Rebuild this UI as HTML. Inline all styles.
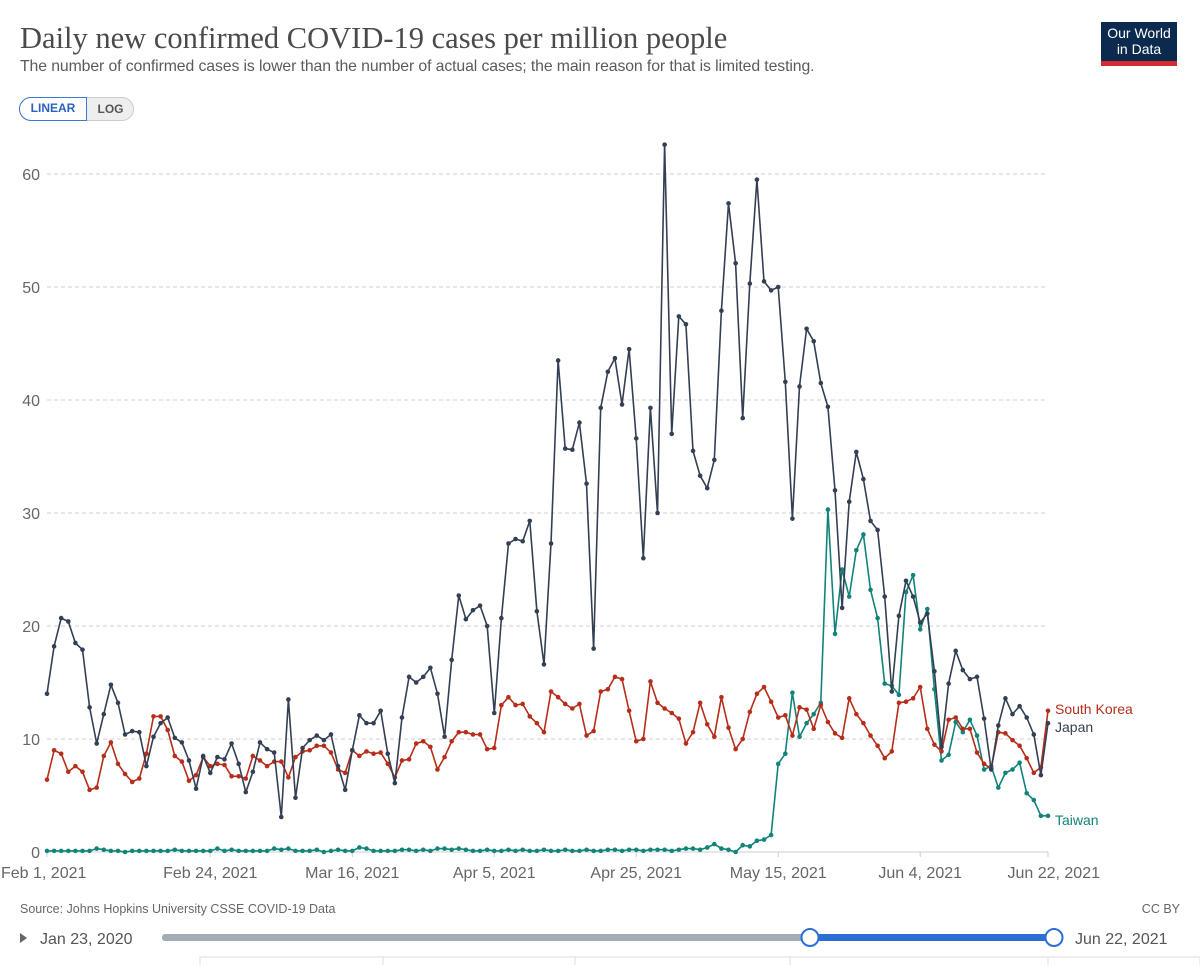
<!DOCTYPE html>
<html><head><meta charset="utf-8">
<style>
html,body{margin:0;padding:0;background:#fff;width:1200px;height:965px;overflow:hidden;font-family:"Liberation Sans",sans-serif;}
.abs{position:absolute;}
#title{left:20px;top:21px;font-family:"Liberation Serif",serif;font-size:30.5px;color:#4a4a4a;white-space:nowrap;}
#sub{left:20px;top:58px;font-size:15.8px;color:#5b5b5b;white-space:nowrap;letter-spacing:-0.1px;}
#toggle{left:19px;top:97px;height:24px;width:115px;border-radius:12px;background:#eee;border:1px solid #ccc;box-sizing:border-box;}
#lin{left:19px;top:97px;height:24px;width:68px;border:1.5px solid #3a78d4;border-radius:12px 0 0 12px;box-sizing:border-box;background:#fff;color:#2a62c0;font-size:12px;font-weight:bold;text-align:center;line-height:21px;}
#log{left:87px;top:97px;height:24px;width:47px;color:#555;font-size:12px;font-weight:bold;text-align:center;line-height:24px;}
#logo{left:1101px;top:22px;width:76px;height:44px;background:#0c2a4e;color:#fff;font-size:14px;line-height:16px;text-align:center;box-sizing:border-box;padding-top:3px;border-bottom:5px solid #d42b32;}
</style></head><body>
<div id="title" class="abs">Daily new confirmed COVID-19 cases per million people</div>
<div id="sub" class="abs">The number of confirmed cases is lower than the number of actual cases; the main reason for that is limited testing.</div>
<div id="toggle" class="abs"></div>
<div id="lin" class="abs">LINEAR</div>
<div id="log" class="abs">LOG</div>
<div id="logo" class="abs">Our World<br>in Data</div>
<svg id="chart" class="abs" style="left:0;top:0" width="1200" height="965"></svg>
<script>
const xTickLabels = ["Feb 1, 2021","Feb 24, 2021","Mar 16, 2021","Apr 5, 2021","Apr 25, 2021","May 15, 2021","Jun 4, 2021","Jun 22, 2021"];
const xTickDays = [0,23,43,63,83,103,123,141];
const yTicks = [0,10,20,30,40,50,60];
const seriesNames = ["Japan","South Korea","Taiwan"];
const japan = [14.0,18.2,20.7,20.4,18.5,17.9,12.8,9.6,12.2,14.8,13.2,10.4,10.7,10.6,7.6,10.2,11.4,11.9,10.1,9.7,8.1,5.6,8.5,7.0,8.4,8.2,9.6,7.8,5.3,7.1,9.7,9.1,8.8,3.1,13.5,4.8,9.2,9.9,10.3,9.9,10.4,7.6,5.5,9.0,12.1,11.4,11.4,12.5,8.7,6.1,11.9,15.5,15.0,15.5,16.3,14.0,10.2,17.0,22.7,20.6,21.4,21.8,20.0,12.3,20.7,27.3,27.7,27.5,29.3,21.3,16.6,27.3,43.5,35.7,35.6,38.0,32.6,18.0,39.3,42.5,43.7,39.6,44.5,36.6,26.0,39.3,30.0,62.6,37.0,47.4,46.7,35.5,33.3,32.2,34.7,47.9,57.4,52.1,38.4,50.3,59.5,50.5,49.7,50.0,41.6,29.5,41.2,46.3,45.2,41.5,39.4,32.0,21.6,31.0,35.4,33.0,29.3,28.5,22.6,14.2,20.9,24.0,22.6,20.3,21.1,16.0,9.3,14.9,17.8,16.1,15.3,15.5,11.8,7.3,11.2,13.6,12.2,12.9,11.9,10.4,6.8,11.4];
const southKorea = [6.4,9.0,8.7,7.1,7.6,7.1,5.5,5.7,8.5,9.7,7.8,6.9,6.2,6.5,8.7,12.0,12.0,10.8,8.5,8.0,6.3,6.8,8.4,7.6,7.8,7.7,6.7,6.7,6.5,8.5,8.1,7.6,8.0,8.0,6.6,8.4,8.9,9.0,9.4,9.4,8.8,7.3,7.0,9.0,8.5,8.9,8.7,8.8,7.8,6.6,8.1,8.2,9.6,9.8,9.3,7.3,8.4,9.8,10.6,10.6,10.4,10.4,9.1,9.2,13.0,13.7,13.0,13.1,12.0,11.4,10.6,14.2,13.7,13.1,12.7,13.1,10.3,10.7,14.2,14.4,15.5,15.3,12.5,9.8,10.0,15.1,13.2,12.7,12.3,11.8,9.6,10.6,13.2,11.3,10.2,13.7,11.0,9.1,10.0,12.4,14.0,14.6,13.3,11.9,12.1,10.3,12.8,12.6,10.9,13.0,11.5,10.5,10.1,13.6,12.2,11.4,10.3,9.4,8.3,8.9,13.2,13.3,13.6,14.6,10.9,9.5,8.9,11.7,11.9,10.9,10.9,8.8,7.8,7.4,10.6,10.5,9.9,9.4,8.3,7.0,7.5,12.5];
const taiwan = [0.1,0.1,0.1,0.1,0.1,0.1,0.1,0.3,0.2,0.1,0.1,0.0,0.1,0.1,0.1,0.1,0.1,0.1,0.2,0.1,0.1,0.1,0.1,0.1,0.3,0.1,0.2,0.1,0.1,0.1,0.1,0.1,0.3,0.2,0.3,0.1,0.1,0.1,0.2,0.0,0.1,0.2,0.1,0.1,0.4,0.3,0.1,0.1,0.1,0.1,0.2,0.2,0.1,0.2,0.1,0.3,0.3,0.2,0.3,0.2,0.1,0.1,0.2,0.1,0.1,0.2,0.1,0.2,0.1,0.1,0.2,0.1,0.1,0.2,0.1,0.1,0.2,0.1,0.1,0.2,0.2,0.1,0.2,0.2,0.1,0.2,0.2,0.2,0.1,0.2,0.3,0.3,0.2,0.4,0.7,0.3,0.2,0.0,0.6,0.5,1.0,1.1,1.5,7.8,8.7,14.1,10.2,11.4,12.2,13.2,30.3,19.3,25.0,22.6,26.7,28.1,23.2,20.7,14.9,14.7,13.9,23.0,24.5,19.7,21.5,14.4,8.1,8.6,11.5,10.6,11.7,10.3,7.3,7.6,5.7,7.0,7.3,7.9,5.2,4.6,3.2,3.2];
const colors = ["#333f53","#b62e19","#11847a"];

const X0=47, X1=1048, Y0=852, Y60=174, NDAYS=141;
function xs(d){return X0+(X1-X0)*d/NDAYS;}
function ys(v){return Y0-(Y0-Y60)*v/60;}
const NS="http://www.w3.org/2000/svg";
const svg=document.getElementById('chart');
function mk(tag,attrs,parent){const e=document.createElementNS(NS,tag);for(const k in attrs)e.setAttribute(k,attrs[k]);(parent||svg).appendChild(e);return e;}

yTicks.forEach(t=>{
  if(t>0){const g=mk('line',{x1:X0,x2:X1,y1:ys(t),y2:ys(t),stroke:'#d0d0d0','stroke-dasharray':'4,3','stroke-width':1});
  
  }
  const l=mk('text',{x:40,y:ys(t)+6,'text-anchor':'end','font-size':16,fill:'#666','font-family':'Liberation Sans, sans-serif'});
  l.textContent=t;
  
  
});
const ax=mk('line',{x1:X0,x2:X1,y1:Y0,y2:Y0,stroke:'#ccc','stroke-width':1});


xTickLabels.forEach((lab,i)=>{
  const x=xs(xTickDays[i]);
  const tk=mk('line',{x1:x,x2:x,y1:Y0,y2:Y0+5,stroke:'#ccc'});
  
  
  let anchor='middle', tx=x;
  if(i===0){tx=x-46;anchor='start';}
  if(i===xTickLabels.length-1){tx=x+52;anchor='end';}
  const t=mk('text',{x:tx,y:878,'text-anchor':anchor,'font-size':16,fill:'#666','font-family':'Liberation Sans, sans-serif'});
  t.textContent=lab;
  
  
});

const order=[2,1,0];
const all=[japan,southKorea,taiwan];
order.forEach(si=>{
  const data=all[si];
  const g=mk('g',{});
  
  
  const pts=data.map((v,i)=>xs(i).toFixed(1)+','+ys(v).toFixed(1)).join(' ');
  const pl=mk('polyline',{points:pts,fill:'none',stroke:colors[si],'stroke-width':1.6,'stroke-linejoin':'round'},g);
  
  
  data.forEach((v,i)=>{
    const c=mk('circle',{cx:xs(i),cy:ys(v),r:2.3,fill:colors[si]},g);
    
    
  });
});
const legY=[ys(southKorea[NDAYS])-2, ys(japan[NDAYS])+4, ys(taiwan[NDAYS])+4];
const legOrder=[1,0,2];
legOrder.forEach((si,k)=>{
  const t=mk('text',{x:1055,y:legY[k]+5,'font-size':14,fill:colors[si],'font-family':'Liberation Sans, sans-serif'});
  t.textContent=seriesNames[si];
  
  
});
const src=mk('text',{x:20,y:913,'font-size':12.5,fill:'#666','font-family':'Liberation Sans, sans-serif'});
src.textContent='Source: Johns Hopkins University CSSE COVID-19 Data';


const cc=mk('text',{x:1180,y:913,'text-anchor':'end','font-size':12.5,fill:'#666','font-family':'Liberation Sans, sans-serif'});
cc.textContent='CC BY';


const play=mk('polygon',{points:'20,933 20,943 27,938',fill:'#666'});


const st=mk('text',{x:40,y:944,'font-size':16,fill:'#555','font-family':'Liberation Sans, sans-serif'});
st.textContent='Jan 23, 2020';


const en=mk('text',{x:1075,y:944,'font-size':16,fill:'#555','font-family':'Liberation Sans, sans-serif'});
en.textContent='Jun 22, 2021';


const tr=mk('rect',{x:162,y:934,width:893,height:7,rx:3,fill:'#a3adb5'});


const sel=mk('rect',{x:810,y:934,width:244,height:7,fill:'#2b6fd6'});


[810,1054].forEach((hx,i)=>{
  const h=mk('circle',{cx:hx,cy:937.5,r:8.5,fill:'#fff',stroke:'#2b6fd6','stroke-width':2});
  
  
});
const tabs=mk('rect',{x:200,y:957,width:1000,height:20,fill:'#fff',stroke:'#ddd'});


[383,575,790,1048].forEach(dx=>{
  const d=mk('line',{x1:dx,x2:dx,y1:957,y2:965,stroke:'#ddd'});
  
  
});
</script>
</body></html>
